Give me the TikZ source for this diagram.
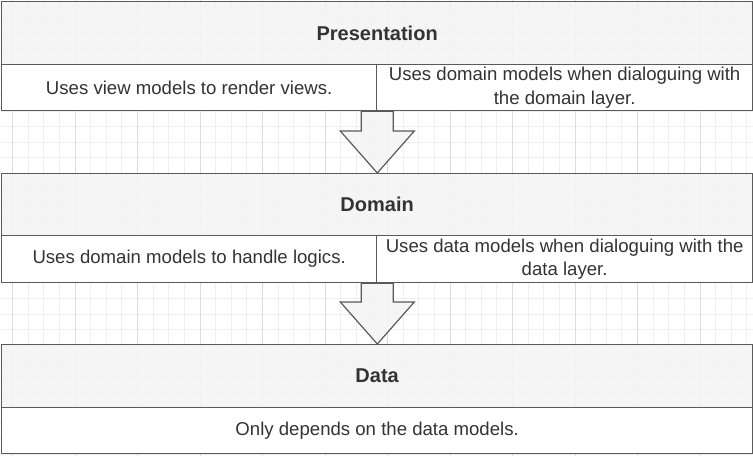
\documentclass[tikz,border=0pt]{standalone}
\usepackage{fontspec}
\setmainfont{Liberation Sans}
\usetikzlibrary{calc}
\definecolor{edge}{HTML}{5A5A5A}
\definecolor{hdrfill}{HTML}{F3F4F3}
\definecolor{gridmin}{HTML}{EFEFEF}
\definecolor{gridmaj}{HTML}{DCDCDC}
\definecolor{txt}{HTML}{333333}
\begin{document}
\begin{tikzpicture}[x=1pt,y=-1pt,
  hdr/.style={draw=edge, line width=1.3pt, fill=hdrfill, fill opacity=0.9, text opacity=1,
    font=\fontsize{20}{24}\selectfont\bfseries, text=txt, inner sep=0pt, anchor=north west},
  cell/.style={draw=edge, line width=1.3pt, fill=white, font=\fontsize{18.6}{23.3}\selectfont,
    text=txt, align=center, inner sep=0pt, anchor=north west},
  blockarr/.style={draw=edge, line width=1.2pt, fill=hdrfill, fill opacity=0.9, line join=miter}]
\useasboundingbox (0,0) rectangle (753,456);
\fill[white] (0,0) rectangle (753,456);
% background grid
\foreach \k in {0,...,47}{
  \pgfmathsetmacro\xx{12.5+15.625*\k}
  \draw[gridmin, line width=0.8pt] (\xx,0) -- (\xx,456);}
\foreach \k in {0,...,29}{
  \pgfmathsetmacro\yy{1.6+15.625*\k}
  \draw[gridmin, line width=0.8pt] (0,\yy) -- (753,\yy);}
\foreach \k in {0,...,11}{
  \pgfmathsetmacro\xx{12.5+62.5*\k}
  \draw[gridmaj, line width=0.9pt] (\xx,0) -- (\xx,456);}
% Presentation
\node[hdr, minimum width=751pt, minimum height=63pt] (pres) at (1,1) {Presentation};
\node[cell, minimum width=375pt, minimum height=46pt] (pl) at (1,64) {Uses view models to render views.};
\node[cell, minimum width=376pt, minimum height=46pt] (pr) at (376,64) {Uses domain models when dialoguing with\\the domain layer.};
% Domain
\node[hdr, minimum width=751pt, minimum height=62pt] (dom) at (1,173) {Domain};
\node[cell, minimum width=375pt, minimum height=47pt] (dl) at (1,235) {Uses domain models to handle logics.};
\node[cell, minimum width=376pt, minimum height=47pt] (dr) at (376,235) {Uses data models when dialoguing with the\\data layer.};
% Data
\node[hdr, minimum width=751pt, minimum height=63pt] (data) at (1,344) {Data};
\node[cell, minimum width=751pt, minimum height=46pt] (dd) at (1,407) {Only depends on the data models.};
% block arrows
\draw[blockarr] let \p1=(pl.south east), \p2=(dom.north) in
  (\x1-16pt,\y1) -- (\x1-16pt,\y2+42pt) -- (\x1-37pt,\y2+42pt) -- (\x1,\y2)
  -- (\x1+37pt,\y2+42pt) -- (\x1+16pt,\y2+42pt) -- (\x1+16pt,\y1) -- cycle;
\draw[blockarr] let \p1=(dl.south east), \p2=(data.north) in
  (\x1-16pt,\y1) -- (\x1-16pt,\y2+42pt) -- (\x1-37pt,\y2+42pt) -- (\x1,\y2)
  -- (\x1+37pt,\y2+42pt) -- (\x1+16pt,\y2+42pt) -- (\x1+16pt,\y1) -- cycle;
\end{tikzpicture}
\end{document}
